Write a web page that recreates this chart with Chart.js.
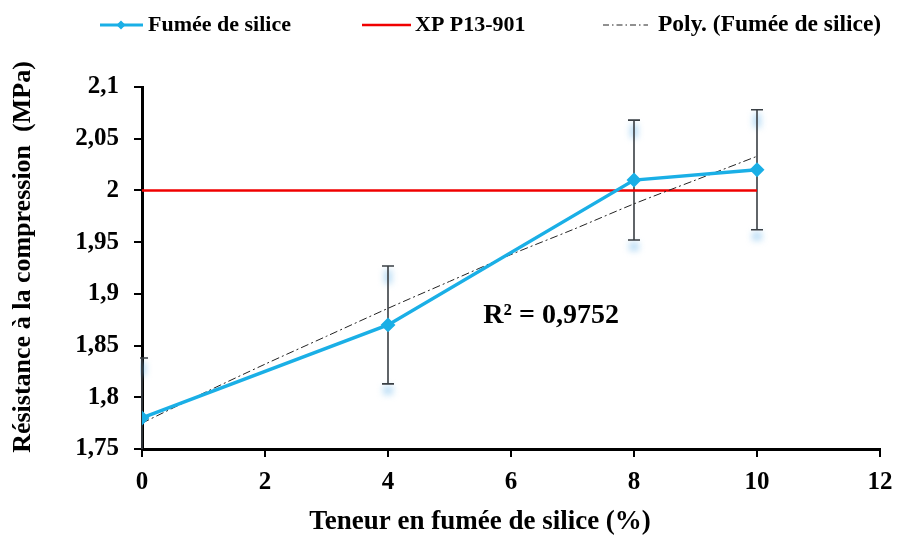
<!DOCTYPE html>
<html>
<head>
<meta charset="utf-8">
<script src="https://cdn.jsdelivr.net/npm/chart.js@4"></script>
<style>
  html, body { margin: 0; padding: 0; background: #fff; }
  #wrap { width: 897px; height: 535px; }
</style>
</head>
<body>
<div id="wrap"><canvas id="chart" width="897" height="535"></canvas></div>
<script>
// Teneur en fumée de silice (%)
const contents = [0, 4, 8, 10];
// Résistance à la compression (MPa)
const strength = [1.78, 1.87, 2.01, 2.02];
const strengthErr = [0.058, 0.057, 0.058, 0.058];

// XP P13-901 limit
const normX = [0, 10];
const normY = [2, 2];

// Poly. (Fumée de silice)
const trendX = [0, 1, 2, 3, 4, 5, 6, 7, 8, 9, 10];
const trendY = [1.775, 1.804, 1.832, 1.859, 1.886, 1.912, 1.938, 1.962, 1.987, 2.010, 2.033];

const r2Label = 'R² = 0,9752';
const xTitle = 'Teneur en fumée de silice (%)';
const yTitle = 'Résistance à la compression  (MPa)';

const FONT = '"Liberation Serif", "Times New Roman", serif';
const BLUE = '#1AAFE6';

function toPoints(xs, ys) {
    return xs.map((x, i) => ({ x: x, y: ys[i] }));
}

// error bars (drawn behind the lines)
const errorBars = {
    id: 'errorBars',
    beforeDatasetsDraw(chart) {
        const { ctx, chartArea, scales } = chart;
        ctx.save();
        ctx.beginPath();
        ctx.rect(chartArea.left - 2, chartArea.top, chartArea.right - chartArea.left + 4, chartArea.bottom - chartArea.top);
        ctx.clip();
        contents.forEach((c, i) => {
            const px = scales.x.getPixelForValue(c);
            const top = scales.y.getPixelForValue(strength[i] + strengthErr[i]);
            const bot = scales.y.getPixelForValue(strength[i] - strengthErr[i]);
            // soft blue halo near the caps
            ctx.save();
            ctx.filter = 'blur(3px)';
            ctx.fillStyle = 'rgba(110, 185, 235, 0.45)';
            ctx.fillRect(px - 4, top + 4, 8, 14);
            ctx.fillRect(px - 5, bot + 2, 10, 9);
            ctx.restore();

            ctx.strokeStyle = '#3a3f44';
            ctx.lineWidth = 1.6;
            ctx.beginPath();
            ctx.moveTo(px, top);
            ctx.lineTo(px, bot);
            ctx.moveTo(px - 6, top);
            ctx.lineTo(px + 6, top);
            ctx.moveTo(px - 6, bot);
            ctx.lineTo(px + 6, bot);
            ctx.stroke();
        });
        ctx.restore();
    }
};

// legend across the top, axis titles and R² label
const annotations = {
    id: 'annotations',
    afterDraw(chart) {
        const { ctx, scales } = chart;
        ctx.save();
        ctx.font = 'bold 22px ' + FONT;
        ctx.fillStyle = '#000';
        ctx.textBaseline = 'middle';
        const ly = 25;

        // Fumée de silice
        ctx.strokeStyle = BLUE;
        ctx.lineWidth = 3;
        ctx.beginPath();
        ctx.moveTo(100, ly);
        ctx.lineTo(143, ly);
        ctx.stroke();
        ctx.fillStyle = BLUE;
        ctx.beginPath();
        ctx.moveTo(121, ly - 4.5);
        ctx.lineTo(125.5, ly);
        ctx.lineTo(121, ly + 4.5);
        ctx.lineTo(116.5, ly);
        ctx.closePath();
        ctx.fill();
        ctx.fillStyle = '#000';
        ctx.fillText('Fumée de silice', 148, ly);

        // XP P13-901
        ctx.strokeStyle = '#F00000';
        ctx.lineWidth = 2.5;
        ctx.beginPath();
        ctx.moveTo(362, ly);
        ctx.lineTo(411, ly);
        ctx.stroke();
        ctx.fillText('XP P13-901', 415, ly);

        // Poly. (Fumée de silice)
        ctx.strokeStyle = '#222';
        ctx.lineWidth = 1;
        ctx.setLineDash([6, 3, 1.5, 3]);
        ctx.beginPath();
        ctx.moveTo(603, ly);
        ctx.lineTo(648, ly);
        ctx.stroke();
        ctx.setLineDash([]);
        ctx.font = 'bold 23.5px ' + FONT;
        ctx.fillText('Poly. (Fumée de silice)', 658, ly);

        // axis titles
        ctx.font = 'bold 27px ' + FONT;
        ctx.textAlign = 'center';
        ctx.fillText(xTitle, 480, 522);
        ctx.save();
        ctx.translate(23, 257);
        ctx.rotate(-Math.PI / 2);
        ctx.font = 'bold 26px ' + FONT;
        ctx.fillText(yTitle, 0, 0);
        ctx.restore();

        // R² label
        ctx.font = 'bold 28px ' + FONT;
        ctx.textAlign = 'left';
        const rx = scales.x.getPixelForValue(5.55);
        const ry = scales.y.getPixelForValue(1.879);
        ctx.fillText(r2Label, rx, ry);
        ctx.restore();
    }
};

const ctx = document.getElementById('chart');
new Chart(ctx, {
    type: 'scatter',
    data: {
        datasets: [{
            label: 'Fumée de silice',
            data: toPoints(contents, strength),
            showLine: true,
            borderColor: BLUE,
            backgroundColor: BLUE,
            borderWidth: 3.5,
            pointStyle: 'rectRot',
            pointRadius: 5,
            pointHoverRadius: 5,
            order: 1
        }, {
            label: 'XP P13-901',
            data: toPoints(normX, normY),
            showLine: true,
            borderColor: '#F00000',
            backgroundColor: '#F00000',
            borderWidth: 2.5,
            pointRadius: 0,
            order: 3
        }, {
            label: 'Poly. (Fumée de silice)',
            data: toPoints(trendX, trendY),
            showLine: true,
            borderColor: '#222',
            backgroundColor: '#222',
            borderWidth: 1,
            borderDash: [8, 3, 2, 3],
            pointRadius: 0,
            tension: 0.3,
            order: 2
        }]
    },
    options: {
        responsive: false,
        animation: false,
        devicePixelRatio: 1,
        layout: {
            padding: { top: 87, right: 0, bottom: 0, left: 0 }
        },
        plugins: {
            legend: { display: false },
            tooltip: { enabled: false }
        },
        scales: {
            x: {
                type: 'linear',
                min: 0,
                max: 12,
                ticks: {
                    stepSize: 2,
                    color: '#000',
                    padding: 11,
                    font: { family: FONT, size: 25, weight: 'bold' }
                },
                grid: {
                    drawOnChartArea: false,
                    drawTicks: true,
                    tickLength: 8,
                    color: '#000',
                    lineWidth: 2
                },
                border: { color: '#000', width: 3 },
                afterFit(scale) {
                    scale.height = 86;
                    scale.paddingRight = 17;
                }
            },
            y: {
                type: 'linear',
                min: 1.75,
                max: 2.1,
                ticks: {
                    stepSize: 0.05,
                    color: '#000',
                    padding: 15,
                    font: { family: FONT, size: 25, weight: 'bold' },
                    callback: (v) => Number(v.toFixed(2)).toString().replace('.', ',')
                },
                grid: {
                    drawOnChartArea: false,
                    drawTicks: true,
                    tickLength: 8,
                    color: '#000',
                    lineWidth: 2
                },
                border: { color: '#000', width: 3 },
                afterFit(scale) { scale.width = 142; }
            }
        }
    },
    plugins: [errorBars, annotations]
});
</script>
</body>
</html>
